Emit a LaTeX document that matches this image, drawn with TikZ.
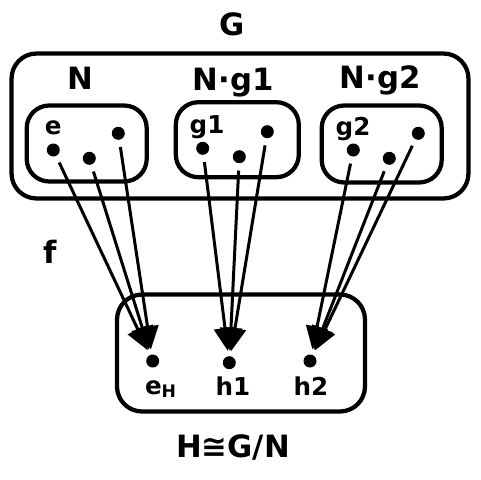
\documentclass[tikz,border=0pt]{standalone}
\usepackage{fontspec}
\setmainfont{DejaVu Sans}
\usetikzlibrary{arrows.meta}

\begin{document}
\begin{tikzpicture}[x=0.02cm, y=-0.02cm,
    caja/.style={rectangle, rounded corners=#1, draw, line width=0.085cm, inner sep=0pt},
    caja/.default=0.45cm,
    punto/.style={circle, fill, inner sep=0pt, minimum size=0.26cm},
    etiq/.style={font=\bfseries\fontsize{17.5}{20}\selectfont, anchor=base, inner sep=0pt},
    etiqp/.style={font=\bfseries\fontsize{14}{16}\selectfont, anchor=base, inner sep=0pt},
    flecha/.style={-{Triangle[length=0.46cm, width=0.44cm]}, line width=0.06cm, shorten <=0.14cm, shorten >=0.1cm}]

    \useasboundingbox (0,0) rectangle (480,480);

    % cajas
    \node[caja=0.5cm, minimum width=9.14cm, minimum height=2.9cm] (G) at (240,126) {};
    \node[caja, minimum width=2.4cm, minimum height=1.52cm] (N) at (86.7,143.5) {};
    \node[caja, minimum width=2.46cm, minimum height=1.5cm] (Ng1) at (237.3,139.7) {};
    \node[caja, minimum width=2.4cm, minimum height=1.54cm] (Ng2) at (381.7,144) {};
    \node[caja=0.5cm, minimum width=4.96cm, minimum height=2.34cm] (H) at (241,353) {};

    % etiquetas
    \node[etiq] (lG) at (232.5,35) {G};
    \node[etiq] (lN) at (80,89.3) {N};
    \node[etiq] (lNg1) at (233,90.5) {N·g1};
    \node[etiq] (lNg2) at (380,88.3) {N·g2};
    \node[etiq] (lf) at (50,263) {f};
    \node[etiq] (lH) at (233,457) {H≅G/N};

    % puntos de G
    \node[punto] (n1) at (53.3,150) {};
    \node[punto] (n2) at (89.3,158.3) {};
    \node[punto] (n3) at (118.3,133.3) {};
    \node[punto] (p1) at (202.7,148.3) {};
    \node[punto] (p2) at (239.3,156.7) {};
    \node[punto] (p3) at (267.3,131.7) {};
    \node[punto] (q1) at (353.3,150) {};
    \node[punto] (q2) at (389.3,158.3) {};
    \node[punto] (q3) at (418.3,133.3) {};
    \node[etiqp] (le) at (53.3,134) {e};
    \node[etiqp] (lg1) at (207,133.5) {g1};
    \node[etiqp] (lg2) at (353,135) {g2};

    % puntos de H
    \node[punto] (eh) at (152.7,361) {};
    \node[punto] (h1) at (229.3,362.7) {};
    \node[punto] (h2) at (310,361) {};
    \node[etiqp] (leh) at (161,394) {e\textsubscript{H}};
    \node[etiqp] (lh1) at (233,395) {h1};
    \node[etiqp] (lh2) at (311,395) {h2};

    % flechas
    \draw[flecha] (n1) -- (eh);
    \draw[flecha] (n2) -- (eh);
    \draw[flecha] (n3) -- (eh);
    \draw[flecha] (p1) -- (h1);
    \draw[flecha] (p2) -- (h1);
    \draw[flecha] (p3) -- (h1);
    \draw[flecha] (q1) -- (h2);
    \draw[flecha] (q2) -- (h2);
    \draw[flecha] (q3) -- (h2);
\end{tikzpicture}
\end{document}
